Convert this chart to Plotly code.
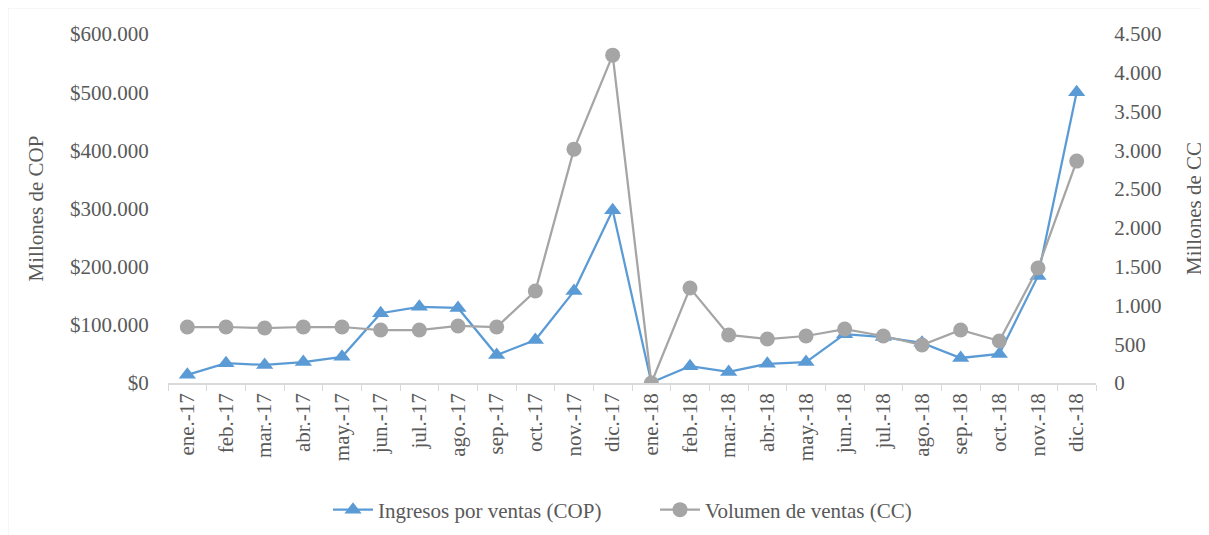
import plotly.graph_objects as go

months = ["ene.-17","feb.-17","mar.-17","abr.-17","may.-17","jun.-17","jul.-17","ago.-17",
          "sep.-17","oct.-17","nov.-17","dic.-17","ene.-18","feb.-18","mar.-18","abr.-18",
          "may.-18","jun.-18","jul.-18","ago.-18","sep.-18","oct.-18","nov.-18","dic.-18"]
ingresos_cop = [14000, 34000, 31000, 36000, 45000, 120000, 131000, 129000,
                48000, 74000, 158000, 297000, 1000, 29000, 19000, 33000,
                36000, 84000, 79000, 69000, 43000, 50000, 184000, 500000]
volumen_cc = [722, 722, 709, 722, 722, 683, 683, 735,
              722, 1186, 3015, 4227, 0, 1224, 619, 567,
              606, 696, 606, 490, 683, 541, 1482, 2861]

left_ticks = [0, 100000, 200000, 300000, 400000, 500000, 600000]
left_labels = ["$0", "$100.000", "$200.000", "$300.000", "$400.000", "$500.000", "$600.000"]
right_ticks = [0, 500, 1000, 1500, 2000, 2500, 3000, 3500, 4000, 4500]
right_labels = ["0", "500", "1.000", "1.500", "2.000", "2.500", "3.000", "3.500", "4.000", "4.500"]

BLUE = "#5B9BD5"
GRAY = "#A5A5A5"
TXT = "#595959"
FONT = "Times New Roman, Liberation Serif, DejaVu Serif, serif"
FS = 21

# figure is drawn inside an 8px page margin
W, H = 1201, 527
L, R, T, B = 160, 113, 26, 152
pw, ph = W - L - R, H - T - B

fig = go.Figure()
fig.add_trace(go.Scatter(
    x=months, y=ingresos_cop, name="Ingresos por ventas (COP)", mode="lines+markers",
    line=dict(color=BLUE, width=2.25),
    marker=dict(symbol="triangle-up", size=15, color=BLUE), yaxis="y"))
fig.add_trace(go.Scatter(
    x=months, y=volumen_cc, name="Volumen de ventas (CC)", mode="lines+markers",
    line=dict(color=GRAY, width=2.25),
    marker=dict(symbol="circle", size=15, color=GRAY), yaxis="y2"))

fig.update_layout(
    width=W, height=H,
    paper_bgcolor="white", plot_bgcolor="white",
    margin=dict(l=L, r=R, t=T, b=B, autoexpand=False),
    font=dict(family=FONT, size=FS, color=TXT),
    showlegend=True,
    legend=dict(orientation="h", x=(320 - L) / pw, xanchor="left",
                y=(T + ph - 502) / ph, yanchor="middle",
                font=dict(family=FONT, size=FS, color=TXT),
                entrywidth=272, entrywidthmode="pixels", itemwidth=40),
    xaxis=dict(type="category", range=[-0.5, 23.5], tickangle=-90, automargin=False,
               showline=True, linecolor="#D9D9D9", linewidth=1.5,
               ticks="outside", tickson="boundaries", tickcolor="#D9D9D9", ticklen=6,
               showgrid=False, tickfont=dict(family=FONT, size=FS, color=TXT)),
    yaxis=dict(range=[0, 600000], tickvals=left_ticks, ticktext=left_labels, automargin=False,
               showgrid=False, zeroline=False, showline=False,
               ticks="outside", ticklen=14, tickcolor="rgba(0,0,0,0)",
               title=dict(text="Millones de COP", standoff=20,
                          font=dict(family=FONT, size=FS, color=TXT)),
               tickfont=dict(family=FONT, size=FS, color=TXT)),
    yaxis2=dict(range=[0, 4500], tickvals=right_ticks, ticktext=right_labels, automargin=False,
                overlaying="y", side="right",
                showgrid=False, zeroline=False, showline=False,
                ticks="outside", ticklen=13, tickcolor="rgba(0,0,0,0)",
                title=dict(text="Millones de CC", standoff=25,
                           font=dict(family=FONT, size=FS, color=TXT)),
                tickfont=dict(family=FONT, size=FS, color=TXT)),
    shapes=[dict(type="rect", xref="paper", yref="paper",
                 x0=(0 - L) / pw, x1=(W + 20 - L) / pw,
                 y0=(T + ph - (H + 20)) / ph, y1=(T + ph - 0) / ph,
                 line=dict(color="#EDEDED", width=1), layer="below")],
)

fig.write_html("out.html")
